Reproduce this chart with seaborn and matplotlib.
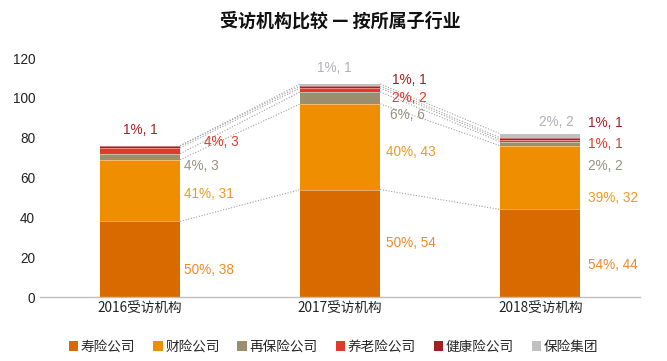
import matplotlib.pyplot as plt
import numpy as np
import pandas as pd
import seaborn as sns
from matplotlib.patches import Patch

years = ['2016受访机构', '2017受访机构', '2018受访机构']
series = ['寿险公司', '财险公司', '再保险公司', '养老险公司', '健康险公司', '保险集团']
life = [38, 54, 44]
pc = [31, 43, 32]
reins = [3, 6, 2]
pension = [3, 2, 1]
health = [1, 1, 1]
group = [0, 1, 2]

colors = ['#D96A00', '#EE8E00', '#9A8E6E', '#E2392A', '#A51F22', '#C0C0C0']
label_colors = ['#EE8A2A', '#EE9A1E', '#9A9280', '#E23A2A', '#A51F22', '#B0B0B8']

# label placement (x offset from category, y in data units), per series per year
label_pos = {
    0: [(0.22, 13.6), (0.23, 27), (0.24, 16)],
    1: [(0.22, 52), (0.23, 73), (0.24, 50)],
    2: [(0.22, 66), (0.25, 91.5), (0.24, 66)],
    3: [(0.32, 78), (0.26, 100), (0.24, 77)],
    4: [(0.0, 84), (0.26, 109), (0.24, 87.5)],
    5: [None, (-0.03, 115), (0.08, 88)],
}


def main():
    sns.set_theme(style='white')
    plt.rcParams['font.family'] = ['Noto Sans CJK SC', 'DejaVu Sans']

    vals = np.array([life, pc, reins, pension, health, group], dtype=float)
    cum = vals.cumsum(axis=0)
    totals = cum[-1]

    fig = plt.figure(figsize=(6.67, 3.61), dpi=100)
    ax = fig.add_axes([0.06, 0.177, 0.9, 0.662])

    for i in range(len(series) - 1, -1, -1):
        df = pd.DataFrame({'year': years, 'value': cum[i]})
        sns.barplot(data=df, x='year', y='value', color=colors[i], width=0.4,
                    saturation=1, ax=ax, edgecolor='none')

    # dotted series lines between bars
    w = 0.2
    for i in range(len(series)):
        for j in range(len(years) - 1):
            ax.plot([j + w, j + 1 - w], [cum[i][j], cum[i][j + 1]],
                    ls=(0, (1, 1.5)), color='#A0A0A0', lw=0.8, zorder=0.5)
    for i in range(len(series) - 1):
        for j in range(len(years)):
            ax.plot([j - w, j + w], [cum[i][j], cum[i][j]],
                    color='white', lw=0.5, alpha=0.6, zorder=3)

    for i in range(len(series)):
        for j in range(len(years)):
            pos = label_pos[i][j]
            if pos is None or vals[i][j] == 0:
                continue
            pct = round(vals[i][j] / totals[j] * 100)
            text = f'{pct}%, {int(vals[i][j])}'
            ha = 'center' if pos[0] < 0.15 else 'left'
            ax.text(j + pos[0], pos[1], text, color=label_colors[i],
                    fontsize=9.8, ha=ha, va='center',
                    family=['Liberation Sans', 'DejaVu Sans'])

    ax.set_xlim(-0.5, 2.5)
    ax.set_ylim(0, 120)
    ax.set_yticks(range(0, 121, 20))
    ax.set_xlabel('')
    ax.set_ylabel('')
    ax.tick_params(axis='both', length=0, labelsize=9.8, colors='#222222')
    for lab in ax.get_yticklabels():
        lab.set_family(['Liberation Sans', 'DejaVu Sans'])
    for s in ['top', 'right', 'left']:
        ax.spines[s].set_visible(False)
    ax.spines['bottom'].set_color('#BFBFBF')
    ax.spines['bottom'].set_linewidth(1)

    fig.text(0.51, 0.942, '受访机构比较 — 按所属子行业', ha='center', va='center',
             fontsize=13, fontweight='bold', color='#111111')

    handles = [Patch(facecolor=c, edgecolor='none') for c in colors]
    fig.legend(handles, series, loc='center', bbox_to_anchor=(0.5, 0.04),
               ncol=6, frameon=False, fontsize=9.8, handlelength=0.7,
               handleheight=0.7, handletextpad=0.2, columnspacing=1.3)

    fig.savefig('out.png', dpi=100)


if __name__ == '__main__':
    main()
